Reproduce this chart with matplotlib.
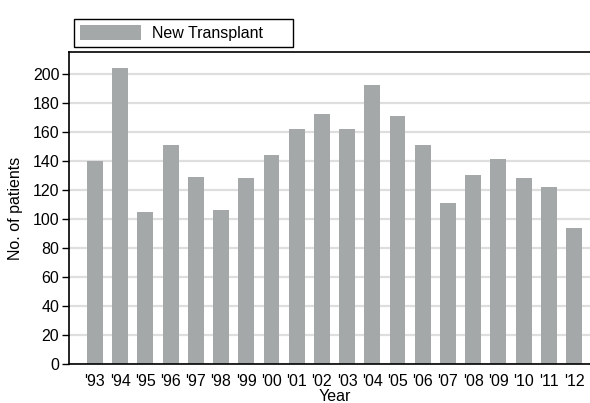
import matplotlib.pyplot as plt
import numpy as np

years = ["'93", "'94", "'95", "'96", "'97", "'98", "'99", "'00", "'01", "'02",
         "'03", "'04", "'05", "'06", "'07", "'08", "'09", "'10", "'11", "'12"]
new_transplant = [140, 204, 105, 151, 129, 106, 128, 144, 162, 172,
                  162, 192, 171, 151, 111, 130, 141, 128, 122, 94]

plt.rcParams['font.family'] = ['Liberation Sans', 'DejaVu Sans']
fs = 11.5

W, H = 590, 403
fig = plt.figure(figsize=(W / 100, H / 100), dpi=100)
# axes box in pixel coords: left 69, right ~600 (cut off), top 52, bottom 364
ax = fig.add_axes([69 / W, (H - 364) / H, (600 - 69) / W, (364 - 52) / H])

x = np.arange(len(years))
ax.bar(x, new_transplant, width=0.63, color='#a5a8a8', label='New Transplant', zorder=2)

ax.set_xlim(-1.03, len(years) - 1 + 1.03)
ax.set_ylim(0, 215)
ax.set_yticks(np.arange(0, 201, 20))
ax.yaxis.grid(True, color='#dedede', lw=1.6, zorder=0)
ax.set_axisbelow(True)

ax.set_xticks(x)
ax.set_xticklabels(years)
ax.tick_params(axis='x', length=0, pad=7, labelsize=fs)
ax.tick_params(axis='y', length=5, width=1, direction='out', labelsize=fs, pad=2)

for s in ['left', 'bottom', 'top']:
    ax.spines[s].set_color('black')
    ax.spines[s].set_linewidth(1.2)
ax.spines['right'].set_visible(False)

ax.set_ylabel('No. of patients', fontsize=fs, labelpad=7)
ax.set_xlabel('Year', fontsize=fs, labelpad=0)

leg = ax.legend(loc='lower left', bbox_to_anchor=(74 / W, (H - 47) / H, 219 / W, 30 / H),
                bbox_transform=fig.transFigure, mode='expand', borderaxespad=0,
                fancybox=False, edgecolor='black', framealpha=1, fontsize=fs,
                handlelength=3.8, handleheight=1.0, handletextpad=0.7,
                borderpad=0.38)
leg.get_frame().set_linewidth(1.0)

plt.savefig('out.png', dpi=100)
